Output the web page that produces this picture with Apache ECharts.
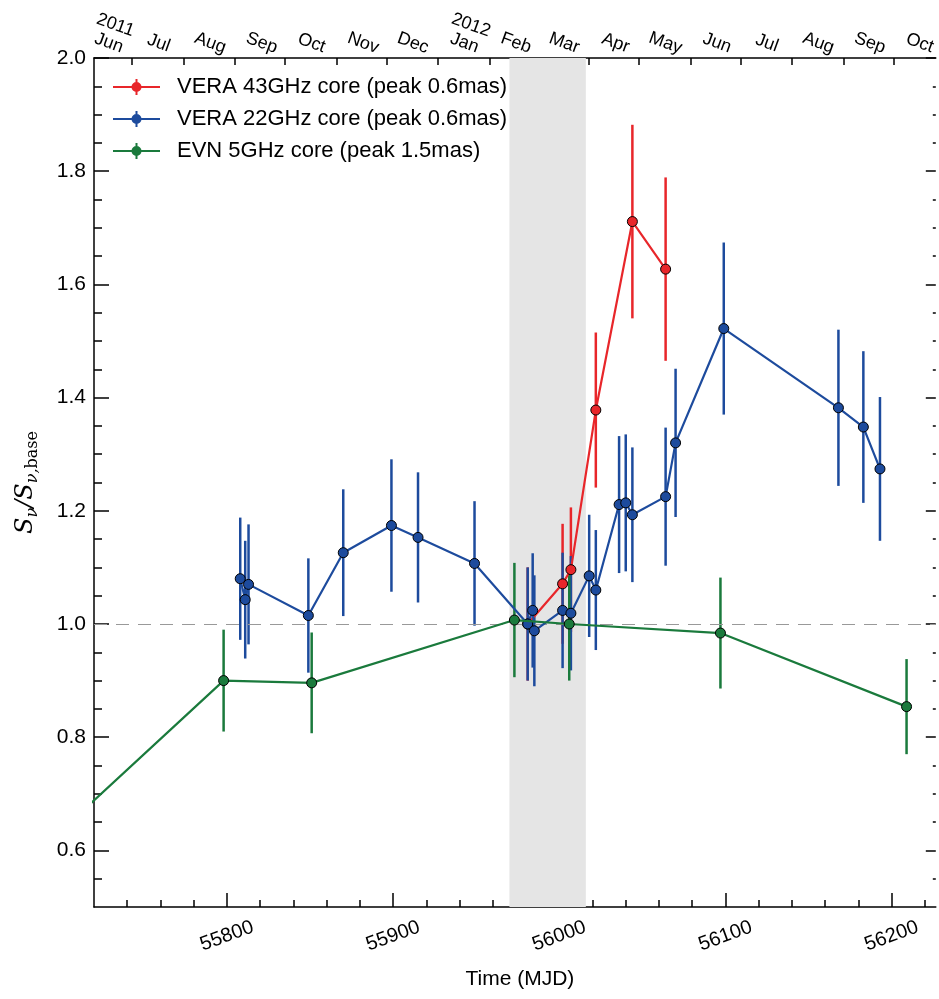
<!DOCTYPE html>
<html>
<head>
<meta charset="utf-8">
<script src="https://cdn.jsdelivr.net/npm/echarts@6/dist/echarts.min.js"></script>
<style>
  html, body { margin: 0; padding: 0; background: #fff; }
  #chart { width: 939px; height: 999px; }
</style>
</head>
<body>
<div id="chart"></div>
<script>
// VERA 43GHz core
var mjd43 = [55981, 56002, 56007, 56022, 56044, 56064];
var flux43 = [1.000, 1.071, 1.096, 1.378, 1.711, 1.627];
var err43 = [0.100, 0.106, 0.110, 0.137, 0.171, 0.162];

// VERA 22GHz core
var mjd22 = [55808, 55811, 55813, 55849, 55870, 55899, 55915, 55949, 55981, 55984, 55985, 56002,
             56007, 56018, 56022, 56036, 56040, 56044, 56064, 56070, 56099, 56168, 56183, 56193];
var flux22 = [1.080, 1.043, 1.070, 1.015, 1.126, 1.174, 1.153, 1.107, 1.000, 1.024, 0.988, 1.024,
              1.019, 1.085, 1.060, 1.211, 1.214, 1.193, 1.225, 1.320, 1.522, 1.382, 1.348, 1.274];
var err22 = [0.108, 0.104, 0.106, 0.101, 0.112, 0.117, 0.115, 0.110, 0.100, 0.101, 0.098, 0.102,
             0.101, 0.108, 0.106, 0.121, 0.121, 0.119, 0.122, 0.131, 0.152, 0.138, 0.134, 0.127];

// EVN 5GHz core (first epoch lies left of the plotted range)
var mjd5 = [55680, 55798, 55851, 55973, 56006, 56097, 56209];
var flux5 = [0.580, 0.900, 0.896, 1.007, 1.000, 0.984, 0.854];
var err5 = [0.080, 0.090, 0.089, 0.101, 0.100, 0.098, 0.084];

var seriesNames = ['VERA 43GHz core (peak 0.6mas)', 'VERA 22GHz core (peak 0.6mas)', 'EVN 5GHz core (peak 1.5mas)'];
var bandMJD = [55970, 56016];

// axes
var xMajor = [55800, 55900, 56000, 56100, 56200];
var xMinor = [55740, 55760, 55780, 55820, 55840, 55860, 55880, 55920, 55940, 55960, 55980,
              56020, 56040, 56060, 56080, 56120, 56140, 56160, 56180, 56220];
var yMajor = [0.6, 0.8, 1.0, 1.2, 1.4, 1.6, 1.8, 2.0];
var yMinor = [0.55, 0.65, 0.7, 0.75, 0.85, 0.9, 0.95, 1.05, 1.1, 1.15, 1.25, 1.3, 1.35, 1.45, 1.5,
              1.55, 1.65, 1.7, 1.75, 1.85, 1.9, 1.95];
var monthStarts = [55743, 55774, 55805, 55835, 55866, 55896, 55927, 55958, 55987, 56018, 56048,
                   56079, 56109, 56140, 56171, 56201];
var monthMids = [55727, 55757, 55788, 55819, 55849, 55880, 55910, 55941, 55972, 56001, 56032,
                 56062, 56093, 56123, 56154, 56185, 56215];
var monthLabels = ['2011\nJun', 'Jul', 'Aug', 'Sep', 'Oct', 'Nov', 'Dec', '2012\nJan', 'Feb', 'Mar',
                   'Apr', 'May', 'Jun', 'Jul', 'Aug', 'Sep', 'Oct'];

var colors = ['#e8262a', '#1d4b9d', '#1a7a3c'];
var font = 'Liberation Sans, Arial, sans-serif';
var xMin = 55720, xMax = 56226.6;

// horizontal line + error bar + marker, drawn clockwise so the pieces add up
var legendIcon = 'path://M0,7h47v2h-47z M22.5,0h2v16h-2z M18.5,8a5,5 0 1,1 10,0a5,5 0 1,1 -10,0z';

function pairs(xs, ys) {
    return xs.map(function (x, i) { return [x, ys[i]]; });
}
function triples(xs, ys, es) {
    return xs.map(function (x, i) { return [x, ys[i], es[i]]; });
}
function errorRender(color) {
    return function (params, api) {
        var x = api.value(0), y = api.value(1), e = api.value(2);
        var top = api.coord([x, y + e]);
        var bot = api.coord([x, y - e]);
        return {
            type: 'line',
            shape: { x1: top[0], y1: top[1], x2: bot[0], y2: bot[1] },
            style: { stroke: color, lineWidth: 2.5 }
        };
    };
}
function lineSeries(name, data, color, z) {
    return {
        name: name,
        type: 'line',
        data: data,
        xAxisIndex: 0,
        yAxisIndex: 0,
        symbol: 'circle',
        symbolSize: 10,
        z: z,
        clip: true,
        itemStyle: { color: color, borderColor: '#000', borderWidth: 1 },
        lineStyle: { color: color, width: 2.2 },
        emphasis: { disabled: true }
    };
}
function errSeries(data, color, z) {
    return {
        type: 'custom',
        data: data,
        xAxisIndex: 0,
        yAxisIndex: 0,
        z: z,
        clip: true,
        encode: { x: 0, y: 1 },
        renderItem: errorRender(color)
    };
}

var tickLine = { color: '#000', width: 1.5 };

var chart = echarts.init(document.getElementById('chart'));
chart.setOption({
    animation: false,
    backgroundColor: '#fff',
    grid: { left: 94, top: 58, width: 844, height: 849 },
    legend: {
        orient: 'vertical',
        left: 113,
        top: 76,
        padding: 0,
        itemWidth: 47,
        itemHeight: 16,
        itemGap: 10,
        textStyle: { fontFamily: font, fontSize: 22, color: '#000', padding: [0, 0, 0, 12] },
        data: seriesNames.map(function (n, i) {
            return { name: n, icon: legendIcon, itemStyle: { color: colors[i], borderWidth: 0 } };
        })
    },
    xAxis: [
        {
            type: 'value', position: 'bottom', min: xMin, max: xMax,
            splitLine: { show: false },
            axisLine: { lineStyle: tickLine },
            axisTick: { inside: true, length: 14, lineStyle: tickLine, customValues: xMajor },
            axisLabel: {
                customValues: xMajor, rotate: 20, fontFamily: font, fontSize: 20, color: '#000',
                margin: 29, align: 'center', verticalAlign: 'middle',
                formatter: function (v) { return String(v); }
            },
            name: 'Time (MJD)', nameLocation: 'middle', nameGap: 62,
            nameTextStyle: { fontFamily: font, fontSize: 21, color: '#000', padding: [0, 0, 0, 10] }
        },
        {
            type: 'value', position: 'bottom', min: xMin, max: xMax,
            splitLine: { show: false },
            axisLine: { show: false },
            axisTick: { inside: true, length: 7, lineStyle: tickLine, customValues: xMinor },
            axisLabel: { show: false }
        },
        {
            type: 'value', position: 'top', min: xMin, max: xMax,
            splitLine: { show: false },
            axisLine: { lineStyle: tickLine },
            axisTick: { inside: true, length: 7, lineStyle: tickLine, customValues: monthStarts },
            axisLabel: {
                customValues: monthMids, rotate: 20, fontFamily: font, fontSize: 18, color: '#000',
                lineHeight: 19, margin: 6, align: 'center', verticalAlign: 'bottom',
                formatter: function (v) {
                    var i = monthMids.indexOf(v);
                    return i >= 0 ? monthLabels[i] : '';
                }
            }
        }
    ],
    yAxis: [
        {
            type: 'value', position: 'left', min: 0.5, max: 2.0,
            splitLine: { show: false },
            axisLine: { lineStyle: tickLine },
            axisTick: { inside: true, length: 15, lineStyle: tickLine, customValues: yMajor },
            axisLabel: {
                customValues: yMajor, fontFamily: font, fontSize: 21, color: '#000', margin: 8,
                formatter: function (v) { return v.toFixed(1); }
            },
            name: '{i|S}{s|ν}{i|/S}{s|ν,}{r|base}',
            nameLocation: 'middle', nameGap: 53, nameRotate: 90,
            nameTextStyle: {
                rich: {
                    i: { fontFamily: 'DejaVu Serif', fontStyle: 'italic', fontSize: 24, color: '#000' },
                    s: { fontFamily: 'DejaVu Serif', fontStyle: 'italic', fontSize: 16, color: '#000',
                         padding: [14, 0, 0, 0] },
                    r: { fontFamily: 'DejaVu Serif', fontSize: 16, color: '#000',
                         padding: [14, 0, 0, 0] }
                }
            }
        },
        {
            type: 'value', position: 'left', min: 0.5, max: 2.0,
            splitLine: { show: false },
            axisLine: { show: false },
            axisTick: { inside: true, length: 8, lineStyle: tickLine, customValues: yMinor },
            axisLabel: { show: false }
        },
        {
            type: 'value', position: 'right', min: 0.5, max: 2.0,
            splitLine: { show: false },
            axisLine: { show: false },
            axisTick: { inside: true, length: 10, lineStyle: tickLine, customValues: yMajor },
            axisLabel: { show: false }
        },
        {
            type: 'value', position: 'right', min: 0.5, max: 2.0,
            splitLine: { show: false },
            axisLine: { show: false },
            axisTick: { inside: true, length: 3, lineStyle: tickLine, customValues: yMinor },
            axisLabel: { show: false }
        }
    ],
    series: [
        {
            type: 'line', data: [], xAxisIndex: 0, yAxisIndex: 0, z: 0,
            markArea: {
                silent: true,
                itemStyle: { color: '#e5e5e5' },
                data: [[{ xAxis: bandMJD[0] }, { xAxis: bandMJD[1] }]]
            },
            markLine: {
                silent: true, symbol: 'none', label: { show: false },
                lineStyle: { color: '#999', width: 1.2, type: [13, 9] },
                data: [{ yAxis: 1.0 }]
            }
        },
        errSeries(triples(mjd43, flux43, err43), colors[0], 1),
        errSeries(triples(mjd22, flux22, err22), colors[1], 2),
        errSeries(triples(mjd5, flux5, err5), colors[2], 3),
        lineSeries(seriesNames[0], pairs(mjd43, flux43), colors[0], 4),
        lineSeries(seriesNames[1], pairs(mjd22, flux22), colors[1], 5),
        lineSeries(seriesNames[2], pairs(mjd5, flux5), colors[2], 6)
    ]
});
</script>
</body>
</html>
